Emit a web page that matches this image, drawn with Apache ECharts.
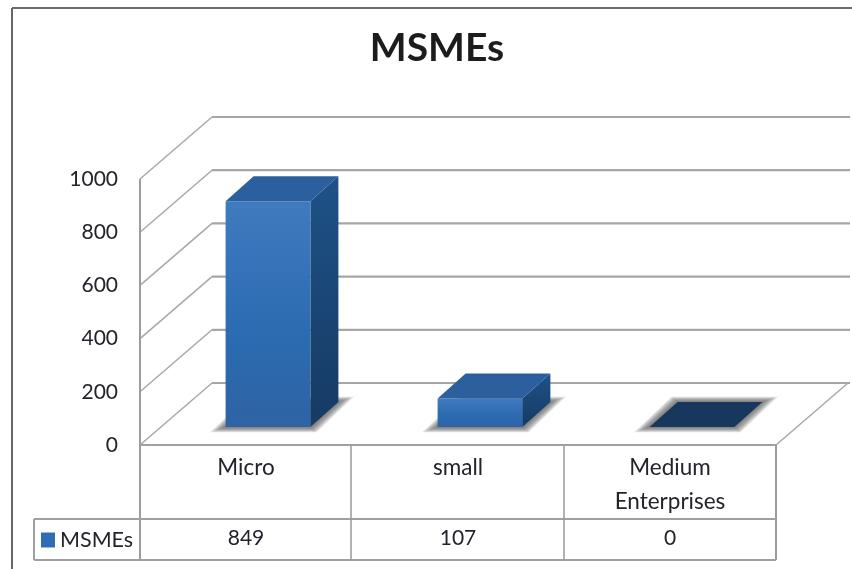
<!DOCTYPE html>
<html>
<head>
<meta charset="utf-8">
<script src="https://cdn.jsdelivr.net/npm/echarts@6/dist/echarts.min.js"></script>
<style>
html,body{margin:0;padding:0;background:#fff;overflow:hidden}
#c{width:852px;height:569px;filter:blur(0.4px)}
</style>
</head>
<body>
<div id="c"></div>
<script>
const chartTitle = 'MSMEs';
const seriesName = 'MSMEs';
const categories = ['Micro', 'small', 'Medium\nEnterprises'];
const msmeValues = [849, 107, 0];
const tickValues = [0, 200, 400, 600, 800, 1000];

const FONT = 'Lato';
const TEXT = '#23232b';
const LINE = '#a6a6a6';
const G = {left: 140, right: 76, top: 179, bottom: 124};
const W = 852, H = 569;
const WALL = {dx: 72, dy: -62};
const BAR = {dx: 28, dy: -25, shiftX: 22, shiftY: -18, widthRatio: 0.4};
const TABLE = {row1: 519, row2: 560, legendLeft: 34};

const chart = echarts.init(document.getElementById('c'), null, {renderer: 'canvas', width: W, height: H});

function seg(x1, y1, x2, y2, stroke, lineWidth) {
  return {type: 'line', shape: {x1, y1, x2, y2}, style: {stroke, lineWidth, fill: null}};
}

function renderWall(params, api) {
  const p = api.coord([0, api.value(0)]);
  const x0 = G.left, y = p[1];
  const backX = x0 + WALL.dx, backY = y + WALL.dy;
  return {
    type: 'group',
    children: [
      seg(x0, y, backX, backY, '#a8a8a8', 1.5),
      seg(backX, backY, W - 2, backY, LINE, 2.2)
    ]
  };
}

function renderBar(params, api) {
  const v = api.value(1);
  const base = api.coord([api.value(0), 0]);
  const top = api.coord([api.value(0), v]);
  const w = api.size([1, 0])[0] * BAR.widthRatio;
  const fl = base[0] + BAR.shiftX - w / 2, fr = fl + w;
  const by = base[1] + BAR.shiftY, ty = top[1] + BAR.shiftY;
  const dx = BAR.dx, dy = BAR.dy;
  const flat = v === 0;
  const children = [];
  for (let k = 7; k >= 1; k--) {
    const ex = k * 2.2, ey = k * 0.75;
    children.push({
      type: 'polygon',
      shape: {points: [[fl - ex, by + ey], [fr + ex * 0.4, by + ey], [fr + dx + ex, by + dy - ey], [fl + dx - ex * 0.4, by + dy - ey]]},
      style: {fill: 'rgba(90,90,90,0.17)'}
    });
  }
  if (!flat) {
    children.push({
      type: 'polygon',
      shape: {points: [[fr, by], [fr + dx, by + dy], [fr + dx, ty + dy], [fr, ty]]},
      style: {fill: new echarts.graphic.LinearGradient(0, 0, 0, 1, [
        {offset: 0, color: '#1e5288'}, {offset: 1, color: '#163a63'}])}
    });
    children.push({
      type: 'rect',
      shape: {x: fl, y: ty, width: w, height: by - ty},
      style: {fill: new echarts.graphic.LinearGradient(0, 0, 0, 1, [
        {offset: 0, color: '#407abf'}, {offset: 0.6, color: '#2b6bb0'}, {offset: 1, color: '#2f63a4'}])}
    });
  }
  children.push({
    type: 'polygon',
    shape: {points: [[fl, ty], [fr, ty], [fr + dx, ty + dy], [fl + dx, ty + dy]]},
    style: {fill: flat ? '#17375e' : '#2c5f9e'}
  });
  return {type: 'group', children};
}

function renderCell(params, api) {
  const c = api.coord([api.value(0), 0]);
  return {
    type: 'text',
    style: {
      text: String(api.value(1)), x: c[0], y: (TABLE.row1 + TABLE.row2) / 2 - 1,
      align: 'center', verticalAlign: 'middle',
      font: '21px ' + FONT, fill: TEXT
    }
  };
}

const floorY = H - G.bottom, rightX = W - G.right;
const band = (rightX - G.left) / categories.length;
const frameLines = [
  [12, 8, W, 8, '#3a3a3a', 1.5],
  [12, 8, 12, H, '#666666', 2],
  [G.left, G.top, G.left, TABLE.row2, '#9c9c9c', 2],
  [rightX, floorY, rightX, TABLE.row2, '#9c9c9c', 2],
  [rightX, floorY, rightX + WALL.dx, floorY + WALL.dy, '#a8a8a8', 1.5],
  [G.left, floorY, rightX, floorY, '#a0a0a0', 2],
  [TABLE.legendLeft, TABLE.row1, rightX, TABLE.row1, '#a0a0a0', 2],
  [TABLE.legendLeft, TABLE.row2, rightX, TABLE.row2, '#a0a0a0', 2],
  [TABLE.legendLeft, TABLE.row1, TABLE.legendLeft, TABLE.row2, '#a0a0a0', 2],
  [G.left + band - 1, floorY, G.left + band - 1, TABLE.row2, '#999999', 1.5],
  [G.left + 2 * band, floorY, G.left + 2 * band, TABLE.row2, '#999999', 1.5]
];

chart.setOption({
  animation: false,
  backgroundColor: '#fff',
  title: {
    text: chartTitle, left: 432, top: 24, textAlign: 'center',
    textStyle: {fontFamily: FONT, fontWeight: 'bold', fontSize: 39, color: '#1c1c1c'}
  },
  legend: {
    data: [seriesName], left: 41, top: 529, itemWidth: 14, itemHeight: 15, itemGap: 9,
    icon: 'rect', padding: 0,
    textStyle: {fontFamily: FONT, fontSize: 21.5, color: TEXT, padding: [0, 0, 0, 0]}
  },
  grid: {left: G.left, right: G.right, top: G.top, bottom: G.bottom},
  xAxis: {
    type: 'category', data: categories,
    axisLine: {show: false}, axisTick: {show: false}, splitLine: {show: false},
    axisLabel: {fontFamily: FONT, fontSize: 22.5, color: TEXT, margin: 6, lineHeight: 34, interval: 0, verticalAlign: 'top'}
  },
  yAxis: {
    type: 'value', min: 0, max: 1000, interval: 200,
    axisLine: {show: false}, axisTick: {show: false}, splitLine: {show: false},
    axisLabel: {fontFamily: FONT, fontSize: 21, color: TEXT, margin: 22, padding: [0, 0, 4, 0], formatter: v => String(v)}
  },
  graphic: frameLines.map(l => ({
    type: 'line', z: 2, silent: true,
    shape: {x1: l[0], y1: l[1], x2: l[2], y2: l[3]},
    style: {stroke: l[4], lineWidth: l[5]}
  })),
  series: [
    {type: 'custom', name: 'walls', z: 1, silent: true, renderItem: renderWall,
     data: tickValues.map(v => [v]), encode: {y: 0}},
    {type: 'custom', name: seriesName, z: 3, renderItem: renderBar,
     itemStyle: {color: '#2f6db5'},
     data: msmeValues.map((v, i) => [i, v]), encode: {x: 0, y: 1}},
    {type: 'custom', name: 'table', z: 4, silent: true, renderItem: renderCell,
     data: msmeValues.map((v, i) => [i, v]), encode: {x: 0, y: 1}}
  ]
});
</script>
</body>
</html>
